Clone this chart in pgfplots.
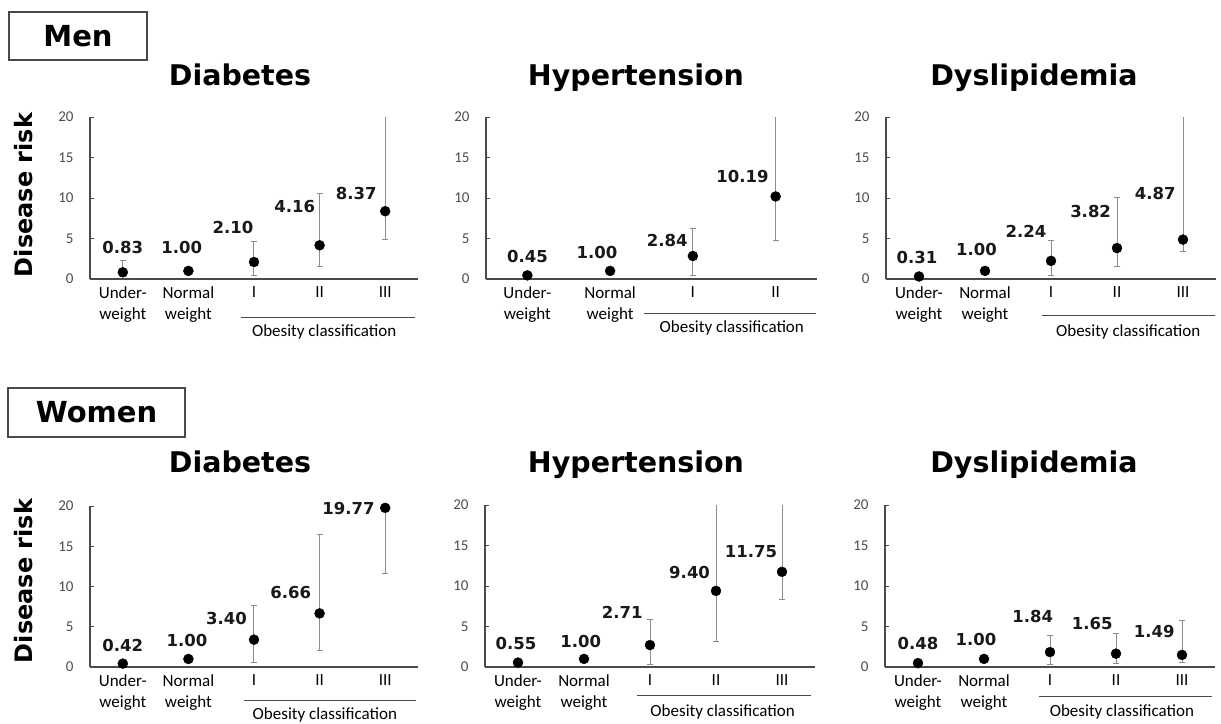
\documentclass[border=0pt]{standalone}
\usepackage{pgfplots}
\pgfplotsset{compat=1.18}
\usepackage{fontspec}
\setmainfont{Carlito}
\newfontfamily\dvb{DejaVu Sans}
\definecolor{axgray}{HTML}{4A4A4A}
\definecolor{ebgray}{HTML}{8C8C8C}
\pgfplotsset{
  panel/.style={
    scale only axis, width=330pt, height=162pt,
    anchor=south west, clip=false,
    axis lines=left, axis line style={-, axgray, line width=1.3pt},
    ymin=0, ymax=20, ytick={0,5,10,15,20},
    xmin=-0.5,
    tick align=inside, major tick length=4pt,
    ytick style={axgray, line width=1pt},
    xtick style={draw=none},
    /pgf/number format/assume math mode=true,
    yticklabel style={font=\fontsize{15}{15}\selectfont, text=black!70, xshift=-13pt},
    xticklabel style={font=\fontsize{17}{21}\selectfont, align=center, anchor=north, yshift=-4pt, text=black},
  },
  ebar/.style={only marks, mark=none, forget plot,
    error bars/.cd, y dir=both, y explicit,
    error bar style={ebgray, line width=1pt},
    error mark options={rotate=90, ebgray, mark size=3pt, line width=0.9pt}},
  ebarlow/.style={only marks, mark=none, forget plot,
    error bars/.cd, y dir=minus, y explicit,
    error bar style={ebgray, line width=1pt},
    error mark options={rotate=90, ebgray, mark size=3pt, line width=0.9pt}},
  ebarup/.style={only marks, mark=none, forget plot,
    error bars/.cd, y dir=plus, y explicit,
    error bar style={ebgray, line width=1pt},
    error mark=none},
  pts/.style={only marks, mark=*, mark size=5pt, black},
}
\tikzset{
  val/.style={font=\dvb\bfseries\fontsize{16.5}{16.5}\selectfont, text=black!90},
  obes/.style={font=\fontsize{17}{17}\selectfont, text=black},
}
\newcommand{\ttl}{\dvb\bfseries\fontsize{28.5}{28.5}\selectfont}
\begin{document}
\begin{tikzpicture}
\useasboundingbox (0pt,0pt) rectangle (1221pt,-723pt);

% ---------- group boxes and y labels ----------
\node[draw=axgray, line width=1.2pt, minimum width=138pt, minimum height=48pt, inner sep=0pt,
      font=\dvb\bfseries\fontsize{29}{29}\selectfont] at (78pt,-36pt) {Men};
\node[draw=axgray, line width=1.2pt, minimum width=177pt, minimum height=49pt, inner sep=0pt,
      font=\dvb\bfseries\fontsize{29}{29}\selectfont] at (96.5pt,-412.5pt) {Women};
\node[rotate=90, font=\dvb\bfseries\fontsize{24}{24}\selectfont] at (24pt,-195pt) {Disease risk};
\node[rotate=90, font=\dvb\bfseries\fontsize{24}{24}\selectfont] at (24pt,-581pt) {Disease risk};

% ---------- titles ----------
\node[anchor=base, font=\ttl] at (240pt,-85pt) {Diabetes};
\node[anchor=base, font=\ttl] at (636pt,-85pt) {Hypertension};
\node[anchor=base, font=\ttl] at (1034pt,-85pt) {Dyslipidemia};
\node[anchor=base, font=\ttl] at (240pt,-472pt) {Diabetes};
\node[anchor=base, font=\ttl] at (636pt,-472pt) {Hypertension};
\node[anchor=base, font=\ttl] at (1034pt,-472pt) {Dyslipidemia};

% ================= MEN =================
% Diabetes
\begin{axis}[panel, at={(90pt,-279pt)}, width=328pt, xmax=4.5,
  xtick={0,1,2,3,4}, xticklabels={{Under-\\weight},{Normal\\weight},I,II,III}]
\addplot[ebar] coordinates {(0,0.83) += (0,1.47) -= (0,0.53) (2,2.10) += (0,2.50) -= (0,1.70) (3,4.16) += (0,6.44) -= (0,2.66)};
\addplot[ebarlow] coordinates {(4,8.37) +- (0,3.47)};
\addplot[ebarup] coordinates {(4,8.37) +- (0,11.63)};
\addplot[pts] coordinates {(0,0.83) (1,1.00) (2,2.10) (3,4.16) (4,8.37)};
\node[val] at (axis cs:0,3.95) {0.83};
\node[val] at (axis cs:0.9,3.95) {1.00};
\node[val] at (axis cs:1.68,6.3) {2.10};
\node[val] at (axis cs:2.62,8.9) {4.16};
\node[val] at (axis cs:3.56,10.6) {8.37};
\draw[axgray, line width=1pt] ([yshift=-38pt]axis cs:1.80,0) -- ([yshift=-38pt]axis cs:4.45,0);
\node[obes] at ([yshift=-53pt]axis cs:3.07,0) {Obesity classification};
\end{axis}

% Hypertension
\begin{axis}[panel, at={(486pt,-279pt)}, width=331pt, xmax=3.5,
  xtick={0,1,2,3}, xticklabels={{Under-\\weight},{Normal\\weight},I,II}]
\addplot[ebar] coordinates {(2,2.84) += (0,3.36) -= (0,2.44)};
\addplot[ebarlow] coordinates {(3,10.19) +- (0,5.39)};
\addplot[ebarup] coordinates {(3,10.19) +- (0,9.81)};
\addplot[pts] coordinates {(0,0.45) (1,1.00) (2,2.84) (3,10.19)};
\node[val] at (axis cs:0,2.8) {0.45};
\node[val] at (axis cs:0.84,3.3) {1.00};
\node[val] at (axis cs:1.69,4.7) {2.84};
\node[val] at (axis cs:2.6,12.6) {10.19};
\draw[axgray, line width=1pt] ([yshift=-34pt]axis cs:1.41,0) -- ([yshift=-34pt]axis cs:3.49,0);
\node[obes] at ([yshift=-49pt]axis cs:2.47,0) {Obesity classification};
\end{axis}

% Dyslipidemia
\begin{axis}[panel, at={(886pt,-279pt)}, width=330pt, xmax=4.5,
  xtick={0,1,2,3,4}, xticklabels={{Under-\\weight},{Normal\\weight},I,II,III}]
\addplot[ebar] coordinates {(2,2.24) += (0,2.56) -= (0,1.84) (3,3.82) += (0,6.28) -= (0,2.32)};
\addplot[ebarlow] coordinates {(4,4.87) +- (0,1.47)};
\addplot[ebarup] coordinates {(4,4.87) +- (0,15.13)};
\addplot[pts] coordinates {(0,0.31) (1,1.00) (2,2.24) (3,3.82) (4,4.87)};
\node[val] at (axis cs:-0.03,2.7) {0.31};
\node[val] at (axis cs:0.87,3.6) {1.00};
\node[val] at (axis cs:1.62,5.9) {2.24};
\node[val] at (axis cs:2.6,8.3) {3.82};
\node[val] at (axis cs:3.58,10.6) {4.87};
\draw[axgray, line width=1pt] ([yshift=-36pt]axis cs:1.86,0) -- ([yshift=-36pt]axis cs:4.48,0);
\node[obes] at ([yshift=-53pt]axis cs:3.17,0) {Obesity classification};
\end{axis}

% ================= WOMEN =================
% Diabetes
\begin{axis}[panel, at={(90pt,-667pt)}, width=328pt, height=161pt, xmax=4.5,
  xtick={0,1,2,3,4}, xticklabels={{Under-\\weight},{Normal\\weight},I,II,III}]
\addplot[ebar] coordinates {(2,3.40) += (0,4.30) -= (0,2.80) (3,6.66) += (0,9.84) -= (0,4.56)};
\addplot[ebarlow] coordinates {(4,19.77) +- (0,8.12)};
\addplot[pts] coordinates {(0,0.42) (1,1.00) (2,3.40) (3,6.66) (4,19.77)};
\node[val] at (axis cs:0,2.7) {0.42};
\node[val] at (axis cs:0.98,3.35) {1.00};
\node[val] at (axis cs:1.58,6.0) {3.40};
\node[val] at (axis cs:2.56,9.2) {6.66};
\node[val] at (axis cs:3.44,19.75) {19.77};
\draw[axgray, line width=1pt] ([yshift=-33pt]axis cs:1.85,0) -- ([yshift=-33pt]axis cs:4.47,0);
\node[obes] at ([yshift=-48pt]axis cs:3.08,0) {Obesity classification};
\end{axis}

% Hypertension
\begin{axis}[panel, at={(485pt,-667pt)}, width=330pt, xmax=4.5,
  xtick={0,1,2,3,4}, xticklabels={{Under-\\weight},{Normal\\weight},I,II,III}]
\addplot[ebar] coordinates {(2,2.71) += (0,3.19) -= (0,2.41)};
\addplot[ebarlow] coordinates {(3,9.40) +- (0,6.30) (4,11.75) +- (0,3.45)};
\addplot[ebarup] coordinates {(3,9.40) +- (0,10.60) (4,11.75) +- (0,8.25)};
\addplot[pts] coordinates {(0,0.55) (1,1.00) (2,2.71) (3,9.40) (4,11.75)};
\node[val] at (axis cs:-0.03,2.85) {0.55};
\node[val] at (axis cs:0.95,3.2) {1.00};
\node[val] at (axis cs:1.58,6.8) {2.71};
\node[val] at (axis cs:2.6,11.7) {9.40};
\node[val] at (axis cs:3.53,14.2) {11.75};
\draw[axgray, line width=1pt] ([yshift=-28pt]axis cs:1.80,0) -- ([yshift=-28pt]axis cs:4.44,0);
\node[obes] at ([yshift=-45pt]axis cs:3.10,0) {Obesity classification};
\end{axis}

% Dyslipidemia
\begin{axis}[panel, at={(885pt,-667pt)}, width=330pt, xmax=4.5,
  xtick={0,1,2,3,4}, xticklabels={{Under-\\weight},{Normal\\weight},I,II,III}]
\addplot[ebar] coordinates {(2,1.84) += (0,2.06) -= (0,1.54) (3,1.65) += (0,2.45) -= (0,1.15) (4,1.49) += (0,4.21) -= (0,0.89)};
\addplot[pts] coordinates {(0,0.48) (1,1.00) (2,1.84) (3,1.65) (4,1.49)};
\node[val] at (axis cs:0,2.85) {0.48};
\node[val] at (axis cs:0.88,3.35) {1.00};
\node[val] at (axis cs:1.74,6.2) {1.84};
\node[val] at (axis cs:2.64,5.35) {1.65};
\node[val] at (axis cs:3.58,4.35) {1.49};
\draw[axgray, line width=1pt] ([yshift=-29pt]axis cs:1.83,0) -- ([yshift=-29pt]axis cs:4.45,0);
\node[obes] at ([yshift=-45pt]axis cs:3.09,0) {Obesity classification};
\end{axis}
\end{tikzpicture}
\end{document}
